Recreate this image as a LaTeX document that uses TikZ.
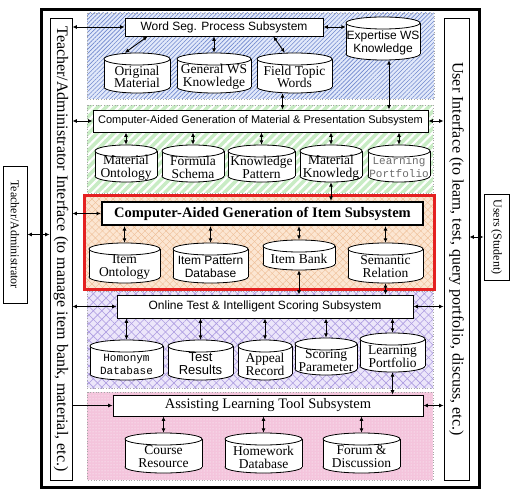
\documentclass[tikz,border=0pt]{standalone}
\usepackage{fontspec}
\setmainfont{Liberation Serif}
\setsansfont{Liberation Sans}
\setmonofont{Liberation Mono}
\usetikzlibrary{arrows.meta,patterns.meta,calc}
\newcommand\fsz[2]{\fontsize{#1}{#2}\selectfont}
\definecolor{bgblue}{RGB}{226,233,250}
\definecolor{lnblue}{RGB}{112,136,206}
\definecolor{bggreen}{RGB}{200,236,196}
\definecolor{bgpeach}{RGB}{252,230,210}
\definecolor{lnpeach}{RGB}{238,190,150}
\definecolor{bglav}{RGB}{236,230,250}
\definecolor{lnlav}{RGB}{172,155,225}
\definecolor{bgpink}{RGB}{244,196,220}
\definecolor{redframe}{RGB}{228,32,32}
\tikzset{
 boxl/.style={draw, line width=0.8pt, fill=white, inner sep=0pt},
 dar/.style={{Latex[length=4.5pt,width=4pt]}-{Latex[length=4.5pt,width=4pt]}, line width=0.9pt},
 sar/.style={-{Latex[length=4.5pt,width=4pt]}, line width=0.9pt},
 cylline/.style={line width=0.8pt},
 cyltext/.style={align=center, inner sep=0pt},
 band/.style={draw=gray!70, dotted, line width=0.7pt},
}
% name, x1, ytop, x2, ybot, font, text
\newcommand\dbcyl[7]{%
 \pgfmathsetmacro\cxm{(#2+#4)/2}%
 \pgfmathsetmacro\cxr{(#4-#2)/2}%
 \pgfmathsetmacro\cyt{#3+6}%
 \pgfmathsetmacro\cyb{#5-6}%
 \pgfmathsetmacro\cyc{(#3+#5)/2}%
 \pgfmathsetmacro\cyh{#5-#3}%
 \pgfmathsetmacro\cyw{#4-#2}%
 \pgfmathsetmacro\cym{(#3+6+#5)/2+1}%
 \fill[white] (\cxm,\cyb) ellipse[x radius=\cxr, y radius=6];
 \draw[cylline] (\cxm,\cyb) ellipse[x radius=\cxr, y radius=6];
 \fill[white] (#2,\cyt) rectangle (#4,\cyb);
 \draw[cylline] (#2,\cyt) -- (#2,\cyb) (#4,\cyt) -- (#4,\cyb);
 \draw[cylline,fill=white] (\cxm,\cyt) ellipse[x radius=\cxr, y radius=6];
 \node[inner sep=0pt, minimum width=\cyw pt, minimum height=\cyh pt] (#1) at (\cxm,\cyc) {};
 \node[cyltext, font=#6] (#1-t) at (\cxm,\cym) {#7};
}
\begin{document}
\begin{tikzpicture}[x=1pt,y=-1pt]
\useasboundingbox (0,0) rectangle (511,489);
% bands
\path[fill=bgblue] (87,13) rectangle (434,99);
\path[pattern={Lines[angle=45,distance=3pt,line width=0.6pt]},pattern color=lnblue] (87,13) rectangle (434,99);
\draw[band] (87,13) rectangle (434,99);
\path[fill=bggreen] (87,105) rectangle (433,193);
\path[pattern={Lines[angle=45,distance=6pt,line width=2.2pt]},pattern color=white] (87,105) rectangle (433,193);
\draw[band] (87,105) rectangle (433,193);
\path[fill=bgpeach] (84,196) rectangle (434,289);
\path[pattern={Lines[angle=45,distance=5pt,line width=0.4pt]},pattern color=lnpeach] (84,196) rectangle (434,289);
\path[pattern={Lines[angle=-45,distance=5pt,line width=0.4pt]},pattern color=lnpeach] (84,196) rectangle (434,289);
\draw[redframe, line width=3pt] (84,196) rectangle (434,289);
\path[fill=bglav] (87,291) rectangle (433,388);
\path[pattern={Lines[angle=45,distance=6pt,line width=0.6pt]},pattern color=lnlav] (87,291) rectangle (433,388);
\path[pattern={Lines[angle=-45,distance=6pt,line width=0.6pt]},pattern color=lnlav] (87,291) rectangle (433,388);
\draw[band] (87,291) rectangle (433,388);
\path[fill=bgpink] (87,392) rectangle (433,480);
\path[pattern={Dots[distance=3pt,radius=0.5pt]},pattern color=white] (87,392) rectangle (433,480);
\draw[band] (87,392) rectangle (433,480);
% outer frame
\draw[line width=3pt] (41,10) rectangle (479,487);
% interface bars
\node[boxl, minimum width=22pt, minimum height=462pt] (tbar) at (61,249) {};
\node[rotate=-90, font=\fsz{16}{16}] (tbar-t) at (tbar.center) {Teacher/Administrator Interface (to manage item bank, material, etc.)};
\node[boxl, minimum width=25pt, minimum height=462pt] (ubar) at (456.5,249) {};
\node[rotate=-90, font=\fsz{16}{16}] (ubar-t) at (ubar.center) {User Interface (to learn, test, query portfolio, discuss, etc.)};
\node[boxl, minimum width=24pt, minimum height=137pt] (teach) at (15,234.5) {};
\node[rotate=-90, font=\fsz{12}{12}] (teach-t) at (teach.center) {Teacher/Administrator};
\node[boxl, minimum width=25pt, minimum height=86pt] (users) at (496.5,237) {};
\node[rotate=-90, font=\fsz{12}{12}] (users-t) at (users.center) {Users (Student)};
% subsystem boxes
\node[boxl, font=\sffamily\fsz{12}{12}, minimum width=198pt, minimum height=18pt] (ws) at (224,27) {Word Seg. Process Subsystem};
\node[boxl, font=\sffamily\fsz{11}{11}, minimum width=335pt, minimum height=22pt] (mat) at (260.5,121) {Computer-Aided Generation of Material \& Presentation Subsystem};
\node[boxl, line width=2pt, font=\bfseries\fsz{14.5}{14.5}, minimum width=321pt, minimum height=23pt] (item) at (262.5,213.5) {Computer-Aided Generation of Item Subsystem};
\node[boxl, font=\sffamily\fsz{12}{12}, minimum width=296pt, minimum height=23pt] (ot) at (265,306.5) {Online Test \& Intelligent Scoring Subsystem};
\node[boxl, font=\fsz{14.5}{14.5}, minimum width=310pt, minimum height=21pt] (al) at (268,405.5) {Assisting Learning Tool Subsystem};
% cylinders
\dbcyl{orig}{104}{53}{170}{93}{\fsz{13.5}{12.5}}{Original\\Material}
\dbcyl{gws}{177}{53}{251}{93}{\fsz{13.5}{12.5}}{General WS\\Knowledge}
\dbcyl{ftw}{257}{53}{332}{93}{\fsz{13.5}{12.5}}{Field Topic\\Words}
\dbcyl{ews}{346}{17}{420}{60}{\sffamily\fsz{12}{13}}{Expertise WS\\Knowledge}
\dbcyl{mo}{95}{145}{157}{182}{\fsz{13.5}{13}}{Material\\Ontology}
\dbcyl{fs}{162}{145}{224}{182}{\fsz{13.5}{13}}{Formula\\Schema}
\dbcyl{kp}{228}{145}{295}{182}{\fsz{13.5}{13}}{Knowledge\\Pattern}
\dbcyl{mk}{300}{145}{362}{182}{\fsz{13.5}{13}}{Material\\Knowledg}
\dbcyl{lp}{368}{145}{430}{182}{\ttfamily\fsz{11}{13}\color{gray!85!black}}{Learning\\Portfolio}
\dbcyl{io}{89}{243}{160}{283}{\fsz{13.5}{13}}{Item\\Ontology}
\dbcyl{ipd}{173}{243}{248}{283}{\sffamily\fsz{12}{13}}{Item Pattern\\Database}
\dbcyl{ib}{263}{240}{335}{270}{\fsz{13.5}{13}}{Item Bank}
\dbcyl{sr}{348}{243}{423}{283}{\fsz{13.5}{13}}{Semantic\\Relation}
\dbcyl{hd}{90}{340}{163}{380}{\ttfamily\fsz{11}{13}}{Homonym\\Database}
\dbcyl{tr}{168}{340}{233}{380}{\sffamily\fsz{13}{13}}{Test\\Results}
\dbcyl{ar}{238}{340}{292}{380}{\fsz{13.5}{13}}{Appeal\\Record}
\dbcyl{sp}{295}{338}{357}{375}{\fsz{13.5}{13}}{Scoring\\Parameter}
\dbcyl{lp2}{360}{333}{425}{372}{\fsz{13.5}{13}}{Learning\\Portfolio}
\dbcyl{cr}{125}{433}{202}{473}{\fsz{13.5}{13}}{Course\\Resource}
\dbcyl{hw}{225}{433}{302}{473}{\fsz{13.5}{13}}{Homework\\Database}
\dbcyl{fd}{323}{433}{400}{473}{\fsz{13.5}{13}}{Forum \&\\Discussion}
% connectors band 1
\draw[dar] ($(ws.south west)+(23,0)$) -- ($(orig.north west)+(21,0)$);
\draw[dar] (gws.north |- ws.south) -- (gws.north);
\draw[dar] ($(ws.south east)+(-50,0)$) -- ($(ftw.north west)+(28,0)$);
\draw[dar] (ws.east) -- (ws.east -| ews.west);
\coordinate (ewsa) at ($(ews.south)+(6,0)$);
\draw[dar] (ewsa) -- (ewsa |- mat.north);
\coordinate (ftwa) at ($(ftw.south)+(-12,0)$);
\draw[dar] (ftwa) -- (ftwa |- mat.north);
% band 2
\foreach \c in {mo,fs,kp,mk,lp} \draw[dar] (\c.north |- mat.south) -- (\c.north);
\draw[dar] (mk.south) -- (mk.south |- item.north);
% band 3
\foreach \c in {io,ipd,ib,sr} \draw[dar] (\c.north |- item.south) -- (\c.north);
\draw[dar] (ib.south) -- (ib.south |- ot.north);
\draw[dar] (sr.south) -- (sr.south |- ot.north);
% band 4
\foreach \c in {hd,tr,ar,sp,lp2} \draw[dar] (\c.north |- ot.south) -- (\c.north);
\draw[dar] (lp2.south) -- (lp2.south |- al.north);
% band 5
\foreach \c in {cr,hw,fd} \draw[dar] (\c.north |- al.south) -- (\c.north);
% interface connectors
\foreach \b in {ws,mat,item,ot} \draw[dar] (tbar.east |- \b.west) -- (\b.west);
\draw[sar] (tbar.east |- al.west) -- (al.west);
\foreach \b in {mat,ot,al} \draw[dar] (\b.east) -- (\b.east -| ubar.west);
\draw[dar] (teach.east) -- (teach.east -| tbar.west);
\draw[dar] (users.west -| ubar.east) -- (users.west);
\end{tikzpicture}
\end{document}
